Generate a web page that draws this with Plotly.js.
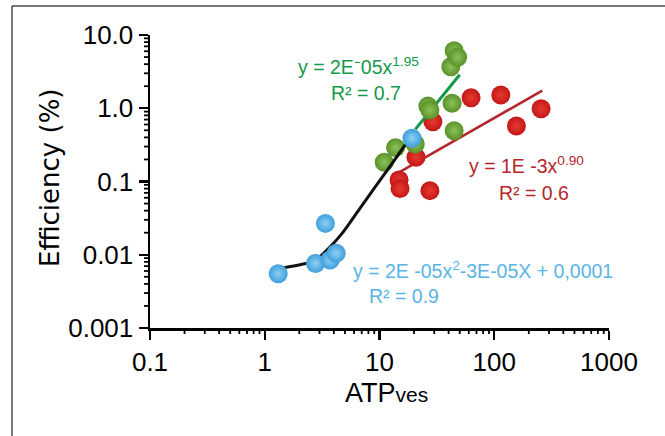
<!DOCTYPE html>
<html>
<head>
<meta charset="utf-8">
<script src="https://cdn.plot.ly/plotly-3.0.1.min.js"></script>
<style>
  html, body { margin: 0; padding: 0; background: #fff; }
  #chart { width: 665px; height: 436px; }
</style>
</head>
<body>
<div id="chart"></div>
<script>
// ---- data ----
const blueX  = [1.31, 2.77, 3.38, 3.71, 4.19, 19.2];
const blueY  = [0.0055, 0.0076, 0.0268, 0.0085, 0.0105, 0.39];

const greenX = [11.0, 13.8, 20.5, 26.4, 27.5, 42.9, 44.7, 41.8, 44.7, 47.9];
const greenY = [0.183, 0.29, 0.325, 1.07, 0.946, 1.17, 0.494, 3.69, 6.1, 4.97];

const redX   = [14.8, 15.1, 20.8, 27.5, 29.2, 62.8, 114, 156, 256];
const redY   = [0.105, 0.080, 0.214, 0.075, 0.656, 1.39, 1.52, 0.573, 0.986];

// fitted trend lines (as drawn in the figure)
const greenFitX = [20.5, 50];
const greenFitY = [0.515, 2.87];
const redFitX   = [14.8, 262];
const redFitY   = [0.133, 1.74];
const blackFitX = [1.32, 1.98, 2.77, 3.61, 4.72, 6.59, 9.21, 12.9, 16.8, 19.1];
const blackFitY = [0.00653, 0.00724, 0.00848, 0.01225, 0.0196, 0.0408, 0.0849, 0.177, 0.315, 0.39];

const xTickVals = [0.1, 1, 10, 100, 1000];
const xTickText = ['0.1', '1', '10', '100', '1000'];
const yTickVals = [0.001, 0.01, 0.1, 1, 10];
const yTickText = ['0.001', '0.01', '0.1', '1.0', '10.0'];
const minorDigits = [2, 3, 4, 5, 6, 7, 8, 9];

// ---- layout geometry ----
const W = 665, H = 436;
const M = {l: 150, r: 56, t: 35, b: 108};
const PW = W - M.l - M.r, PH = H - M.t - M.b;
const px = v => (v - M.l) / PW;          // pixel -> paper x
const py = v => (H - M.b - v) / PH;      // pixel -> paper y
const X_RANGE = [-1, 3], Y_RANGE = [-3, 1];

const FONT = 'Arial, "Liberation Sans", sans-serif';
const TICKFONT = '"Liberation Sans Narrow", "Arial Narrow", Arial, sans-serif';

// minor tick marks (2..9 in every decade), drawn as short shapes outside the axes
function minorTickShapes() {
  const shapes = [];
  const LEN = 6, LW = 1.8;
  xTickVals.slice(0, -1).forEach(d => minorDigits.forEach(k => {
    const f = (Math.log10(d * k) - X_RANGE[0]) / (X_RANGE[1] - X_RANGE[0]);
    shapes.push({type: 'line', xref: 'paper', yref: 'paper', x0: f, x1: f,
                 y0: 0, y1: -LEN / PH, line: {color: '#000', width: LW}});
  }));
  yTickVals.slice(0, -1).forEach(d => minorDigits.forEach(k => {
    const f = (Math.log10(d * k) - Y_RANGE[0]) / (Y_RANGE[1] - Y_RANGE[0]);
    shapes.push({type: 'line', xref: 'paper', yref: 'paper', x0: 0, x1: -LEN / PW,
                 y0: f, y1: f, line: {color: '#000', width: LW}});
  }));
  return shapes;
}

function markerTrace(x, y, edge, center) {
  return {
    x: x, y: y, type: 'scatter', mode: 'markers', hoverinfo: 'skip',
    marker: {size: 19, color: edge, line: {width: 0},
             gradient: {type: 'radial', color: center}}
  };
}

const traces = [
  {x: redFitX, y: redFitY, type: 'scatter', mode: 'lines', hoverinfo: 'skip',
   line: {color: '#b3262b', width: 2.5}},
  markerTrace(redX, redY, '#c41818', '#e6392f'),
  {x: greenFitX, y: greenFitY, type: 'scatter', mode: 'lines', hoverinfo: 'skip',
   line: {color: '#11994a', width: 3}},
  markerTrace(greenX, greenY, '#5a9128', '#8cc25a'),
  {x: blackFitX, y: blackFitY, type: 'scatter', mode: 'lines', hoverinfo: 'skip',
   line: {color: '#111', width: 3, shape: 'spline', smoothing: 1}},
  markerTrace(blueX, blueY, '#3e9fdb', '#8ed0f4')
];

function ann(text, xpx, ypx, color, size, opts) {
  return Object.assign({
    text: text, xref: 'paper', yref: 'paper', x: px(xpx), y: py(ypx),
    xanchor: 'left', yanchor: 'middle', showarrow: false,
    font: {family: FONT, size: size, color: color}
  }, opts || {});
}

const cGT = '#139a4b', cRT = '#b5262b', cBT = '#5ab4e6';

function axis(range, vals, text) {
  return {
    type: 'log', range: range, fixedrange: true,
    showgrid: false, zeroline: false,
    showline: true, linecolor: '#000', linewidth: 2.5,
    ticks: 'outside', ticklen: 9, tickwidth: 2.4, tickcolor: '#000',
    tickmode: 'array', tickvals: vals, ticktext: text,
    tickfont: {family: TICKFONT, size: 26, color: '#000'}
  };
}

const layout = {
  width: W, height: H,
  margin: M,
  paper_bgcolor: '#fff', plot_bgcolor: '#fff',
  showlegend: false,
  font: {family: FONT, color: '#000'},
  xaxis: axis(X_RANGE, xTickVals, xTickText),
  yaxis: axis(Y_RANGE, yTickVals, yTickText),
  shapes: [
    {type: 'line', xref: 'paper', yref: 'paper', x0: px(12), x1: px(12), y0: py(6), y1: py(445),
     line: {color: '#4a4a4a', width: 1.5}},
    {type: 'line', xref: 'paper', yref: 'paper', x0: px(12), x1: px(680), y0: py(6), y1: py(6),
     line: {color: '#4a4a4a', width: 1.5}}
  ].concat(minorTickShapes()),
  annotations: [
    ann('y = 2E⁻05x<sup>1.95</sup>', 296, 66, cGT, 19.5),
    ann('R² = 0.7', 329, 93, cGT, 19.5),
    ann('y = 1E -3x<sup>0.90</sup>', 467, 165, cRT, 19.5),
    ann('R² = 0.6', 497, 193, cRT, 19.5),
    ann('y = 2E -05x<sup>2</sup>-3E-05X + 0,0001', 351, 270, cBT, 19.5),
    ann('R² = 0.9', 367, 296, cBT, 19.5),
    ann('ATP<span style="font-size:21px">ves</span>', 386, 393, '#000', 27, {xanchor: 'center'}),
    ann('Efficiency (%)', 50, 178, '#000', 26,
        {xanchor: 'center', textangle: -90, font: {family: '"DejaVu Sans", sans-serif', size: 26, color: '#000'}})
  ]
};

Plotly.newPlot('chart', traces, layout, {displayModeBar: false, staticPlot: true});
</script>
</body>
</html>
